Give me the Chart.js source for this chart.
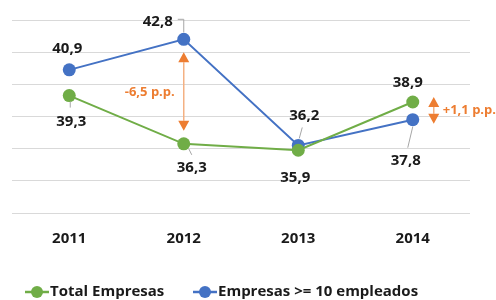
<!DOCTYPE html>
<html>
<head>
<meta charset="utf-8">
<script src="https://cdn.jsdelivr.net/npm/chart.js@4"></script>
<style>
  body { margin: 0; background: #fff; }
  #wrap { width: 496px; height: 300px; position: relative; }
</style>
</head>
<body>
<div id="wrap"><canvas id="chart"></canvas></div>
<script>
// datos
const years = ['2011', '2012', '2013', '2014'];
const totalEmpresas = [39.3, 36.3, 35.9, 38.9];
const empresas10 = [40.9, 42.8, 36.2, 37.8];
const seriesNames = ['Total Empresas', 'Empresas >= 10 empleados'];
const yTicks = [32, 34, 36, 38, 40, 42, 44];

const GREEN = '#70AD47';
const BLUE = '#4472C4';
const ORANGE = '#ED7D31';
const FONT = '"Open Sans", sans-serif';

// desplazamiento de cada etiqueta respecto a su punto [dx, dy]
const labelOffsets = [
    [[2, 26], [8, 24], [-3, 27], [-5, -19]],
    [[-2, -21], [-26, -18], [6, -30], [-7, 41]]
];

function fmt(v) {
    return v.toFixed(1).replace('.', ',');
}

const dataLabels = {
    id: 'dataLabels',
    afterDatasetsDraw(chart) {
        const ctx = chart.ctx;
        ctx.save();
        ctx.font = 'bold 15px ' + FONT;
        ctx.fillStyle = '#1a1a1a';
        ctx.textAlign = 'center';
        ctx.textBaseline = 'middle';
        chart.data.datasets.forEach(function (ds, i) {
            chart.getDatasetMeta(i).data.forEach(function (pt, j) {
                const off = labelOffsets[i][j];
                ctx.fillText(fmt(ds.data[j]), pt.x + off[0], pt.y + off[1]);
            });
        });

        // lineas guia
        const g = chart.getDatasetMeta(0).data;
        const b = chart.getDatasetMeta(1).data;
        ctx.strokeStyle = '#a6a6a6';
        ctx.lineWidth = 1;
        ctx.beginPath();
        ctx.moveTo(b[1].x - 6, b[1].y - 20);
        ctx.lineTo(b[1].x, b[1].y - 20);
        ctx.lineTo(b[1].x, b[1].y - 7);
        ctx.moveTo(b[2].x + 4, b[2].y - 18);
        ctx.lineTo(b[2].x + 1, b[2].y - 7);
        ctx.moveTo(b[3].x, b[3].y + 7);
        ctx.lineTo(b[3].x - 5, b[3].y + 28);
        ctx.moveTo(g[0].x + 1, g[0].y + 6);
        ctx.lineTo(g[0].x + 1, g[0].y + 12);
        ctx.moveTo(g[1].x + 5, g[1].y + 5);
        ctx.lineTo(g[1].x + 8, g[1].y + 11);
        ctx.stroke();
        ctx.restore();
    }
};

function doubleArrow(ctx, x, yTop, yBottom, head, half) {
    ctx.beginPath();
    ctx.moveTo(x, yTop + head);
    ctx.lineTo(x, yBottom - head);
    ctx.stroke();
    ctx.beginPath();
    ctx.moveTo(x, yTop);
    ctx.lineTo(x - half, yTop + head);
    ctx.lineTo(x + half, yTop + head);
    ctx.closePath();
    ctx.moveTo(x, yBottom);
    ctx.lineTo(x - half, yBottom - head);
    ctx.lineTo(x + half, yBottom - head);
    ctx.closePath();
    ctx.fill();
}

const diffNotes = {
    id: 'diffNotes',
    afterDatasetsDraw(chart) {
        const ctx = chart.ctx;
        const y = chart.scales.y;
        const x = chart.scales.x;
        ctx.save();
        ctx.strokeStyle = '#F4B183';
        ctx.fillStyle = ORANGE;
        ctx.lineWidth = 1.5;

        // 2012
        const x1 = x.getPixelForValue(1);
        const t1 = y.getPixelForValue(empresas10[1]) + 13;
        const b1 = y.getPixelForValue(totalEmpresas[1]) - 13;
        doubleArrow(ctx, x1, t1, b1, 10, 5.5);
        ctx.font = 'bold 13px ' + FONT;
        ctx.textAlign = 'center';
        ctx.textBaseline = 'middle';
        const d1 = totalEmpresas[1] - empresas10[1];
        ctx.fillText(fmt(d1) + ' p.p.', x1 - 34, (t1 + b1) / 2 + 1);

        // 2014
        const x2 = x.getPixelForValue(3) + 21;
        const t2 = y.getPixelForValue(totalEmpresas[3]) - 5;
        const b2 = y.getPixelForValue(empresas10[3]) + 4;
        doubleArrow(ctx, x2, t2, b2, 10, 5.5);
        const d2 = totalEmpresas[3] - empresas10[3];
        ctx.textAlign = 'left';
        ctx.fillText('+' + fmt(d2) + ' p.p.', x2 + 9, (t2 + b2) / 2);
        ctx.restore();
    }
};

const bottomLegend = {
    id: 'bottomLegend',
    afterDraw(chart) {
        const ctx = chart.ctx;
        const colors = [GREEN, BLUE];
        const starts = [25, 193];
        const cy = 292;
        ctx.save();
        ctx.font = 'bold 15px ' + FONT;
        ctx.textBaseline = 'middle';
        seriesNames.forEach(function (name, i) {
            const sx = starts[i];
            ctx.strokeStyle = colors[i];
            ctx.lineWidth = 2.5;
            ctx.beginPath();
            ctx.moveTo(sx, cy);
            ctx.lineTo(sx + 24, cy);
            ctx.stroke();
            ctx.fillStyle = colors[i];
            ctx.beginPath();
            ctx.arc(sx + 12, cy, 6, 0, Math.PI * 2);
            ctx.fill();
            ctx.fillStyle = '#1a1a1a';
            ctx.fillText(name, sx + 25, cy);
        });
        ctx.restore();
    }
};

const ctx = document.getElementById('chart').getContext('2d');
new Chart(ctx, {
    type: 'line',
    data: {
        labels: years,
        datasets: [{
            label: seriesNames[0],
            data: totalEmpresas,
            borderColor: GREEN,
            backgroundColor: GREEN,
            borderWidth: 2,
            pointRadius: 6.5,
            pointBorderWidth: 0,
            tension: 0
        }, {
            label: seriesNames[1],
            data: empresas10,
            borderColor: BLUE,
            backgroundColor: BLUE,
            borderWidth: 2,
            pointRadius: 6.5,
            pointBorderWidth: 0,
            tension: 0
        }]
    },
    options: {
        responsive: true,
        maintainAspectRatio: false,
        animation: false,
        layout: {
            padding: { left: 12, right: 26, top: 20, bottom: 35 }
        },
        plugins: {
            legend: { display: false },
            tooltip: { enabled: false }
        },
        scales: {
            x: {
                offset: true,
                grid: { display: false, drawTicks: false },
                border: { display: false },
                ticks: {
                    padding: 17,
                    color: '#1a1a1a',
                    font: { family: FONT, size: 15, weight: 'bold' }
                }
            },
            y: {
                min: yTicks[0],
                max: yTicks[yTicks.length - 1],
                afterBuildTicks: function (axis) {
                    axis.ticks = yTicks.map(function (v) { return { value: v }; });
                },
                ticks: { display: false },
                grid: { color: '#d9d9d9', lineWidth: 1, drawTicks: false },
                border: { display: false }
            }
        }
    },
    plugins: [dataLabels, diffNotes, bottomLegend]
});
</script>
</body>
</html>
